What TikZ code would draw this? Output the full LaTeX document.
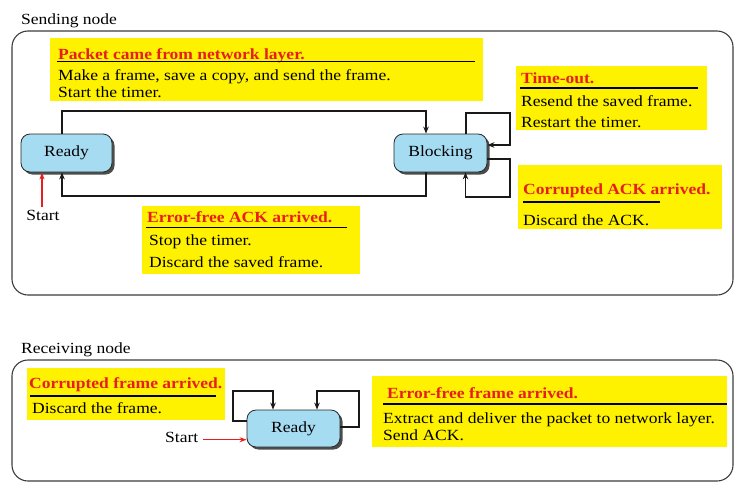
\documentclass[tikz,border=0pt]{standalone}
\usepackage{fontspec}
\setmainfont{Liberation Serif}[FakeStretch=1.13]
\usetikzlibrary{arrows.meta,shadows}
\definecolor{ylw}{RGB}{255,242,0}
\definecolor{ttlred}{RGB}{232,30,30}
\definecolor{stblue}{RGB}{166,220,242}
\definecolor{frm}{RGB}{60,60,60}
\begin{document}
\begin{tikzpicture}[x=1pt,y=-1pt,
  every node/.style={font=\fontsize{15.5pt}{18pt}\selectfont},
  ybox/.style={fill=ylw,draw=none,inner sep=0pt,anchor=north west},
  ttl/.style={text=ttlred,font=\fontsize{15.5pt}{18pt}\selectfont\bfseries,anchor=base west,inner sep=0pt},
  txt/.style={anchor=base west,inner sep=0pt},
  uline/.style={line width=1.2pt,black},
  state/.style={draw=black!85,fill=stblue,rounded corners=9pt,line width=0.8pt,inner sep=0pt,
    drop shadow={shadow xshift=2.5pt,shadow yshift=-2.5pt,fill=black!70,opacity=1}},
  conn/.style={line width=1.4pt,black!90,-{Stealth[length=7pt,width=5.5pt]}},
  startarr/.style={line width=1.1pt,ttlred,-{Stealth[length=7pt,width=5pt]}},
  frame/.style={draw=frm,line width=1.1pt,rounded corners=16pt}]
\useasboundingbox (0,0) rectangle (743,490);

% ---------- Sending node ----------
\node[txt] (lblsend) at (21,24) {Sending node};
\draw[frame] (12,31) rectangle (733,295);

\node[ybox,minimum width=433pt,minimum height=63pt] (pkbox) at (50,38) {};
\node[ttl] (pkttl) at (58,59) {Packet came from network layer.};
\draw[uline] (57,61.5) -- (475,61.5);
\node[txt] (pk1) at (58,80) {Make a frame, save a copy, and send the frame.};
\node[txt] (pk2) at (58,97) {Start the timer.};

\node[ybox,minimum width=191pt,minimum height=64pt] (tobox) at (516,66) {};
\node[ttl] (tottl) at (521,83) {Time-out.};
\draw[uline] (520,88) -- (698,88);
\node[txt] (to1) at (521,106) {Resend the saved frame.};
\node[txt] (to2) at (521,127) {Restart the timer.};

\node[ybox,minimum width=204pt,minimum height=64pt] (cabox) at (518,165) {};
\node[ttl] (cattl) at (523,194) {Corrupted ACK arrived.};
\draw[uline] (523,202) -- (660,202);
\node[txt] (ca1) at (523,225) {Discard the ACK.};

\node[ybox,minimum width=218pt,minimum height=68pt] (efbox) at (142,206) {};
\node[ttl] (efttl) at (147,222) {Error-free ACK arrived.};
\draw[uline] (146,227.5) -- (347,227.5);
\node[txt] (ef1) at (149,245) {Stop the timer.};
\node[txt] (ef2) at (149,267) {Discard the saved frame.};

\node[state,minimum width=91pt,minimum height=38pt] (rdy) at (66.5,153) {Ready};
\node[state,minimum width=93pt,minimum height=38pt] (blk) at (440.5,153) {Blocking};

\coordinate (c1) at (200,111);
\coordinate (c2) at (200,196);
\coordinate (c3) at (510,113);
\coordinate (c4) at (510,197);
\draw[conn] ([xshift=-4.5pt]rdy.north) |- (c1) -| ([xshift=-14.5pt]blk.north);
\draw[conn] ([xshift=-14.5pt]blk.south) |- (c2) -| ([xshift=-4.5pt]rdy.south);
\draw[conn] ([xshift=25.5pt]blk.north) |- (c3) |- ([yshift=8pt]blk.east);
\draw[conn] ([yshift=-6pt]blk.east) -| (c4) -| ([xshift=25pt]blk.south);

\node[inner sep=3pt,anchor=base] (st1) at (43,220) {Start};
\draw[startarr] ([xshift=-1pt]st1.north) -- ([xshift=-1pt]st1.north |- rdy.south);

% ---------- Receiving node ----------
\node[txt] (lblrecv) at (21,353) {Receiving node};
\draw[frame] (12,360) rectangle (733,481);

\node[ybox,minimum width=198pt,minimum height=52pt] (cfbox) at (27,368) {};
\node[ttl] (cfttl) at (29,388) {Corrupted frame arrived.};
\draw[uline] (30,396) -- (216,396);
\node[txt] (cf1) at (32,413) {Discard the frame.};

\node[ybox,minimum width=355pt,minimum height=71pt] (ffbox) at (372,376) {};
\node[ttl] (ffttl) at (387,398) {Error-free frame arrived.};
\draw[uline] (383,404) -- (727,404);
\node[txt] (ff1) at (383,423) {Extract and deliver the packet to network layer.};
\node[txt] (ff2) at (383,440) {Send ACK.};

\node[state,minimum width=93pt,minimum height=37pt] (rr) at (293.5,428.5) {Ready};
\coordinate (c5) at (233,391);
\coordinate (c6) at (359,391);
\draw[conn] ([yshift=7.5pt]rr.west) -| (c5) -| ([xshift=-20.5pt]rr.north);
\draw[conn] ([yshift=1.5pt]rr.east) -| (c6) -| ([xshift=23.5pt]rr.north);

\node[txt] (st2) at (165,442) {Start};
\draw[startarr] ([xshift=5pt]st2.mid east) -- (st2.mid east -| rr.west);
\end{tikzpicture}
\end{document}
